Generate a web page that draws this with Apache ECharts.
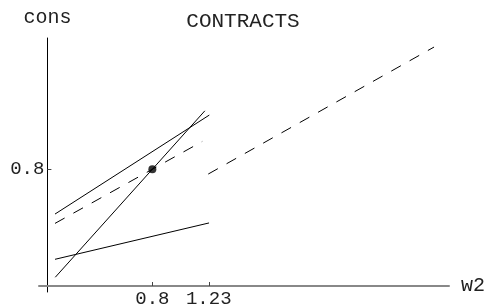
<!DOCTYPE html>
<html>
<head>
<meta charset="utf-8">
<script src="https://cdn.jsdelivr.net/npm/echarts@6/dist/echarts.min.js"></script>
<style>
  html, body { margin: 0; padding: 0; background: #fff; }
  #chart { width: 491px; height: 307px; }
</style>
</head>
<body>
<div id="chart"></div>
<script>
// contract lines, each [w2, cons] endpoints
const steepLine = [[0.06, 0.06], [1.2, 1.2]]
const upperLine = [[0.058, 0.493], [1.234, 1.171]]
const lowerLine = [[0.058, 0.183], [1.232, 0.432]]
const leftDashed = [[0.058, 0.429], [1.18, 0.99]]
const rightDashed = [[1.226, 0.767], [2.947, 1.637]]
const contractPoint = [[0.8, 0.8]]
const xTicks = [0.8, 1.23]
const yTicks = [0.8]

const font = '"Liberation Mono", "Courier New", monospace'
const textColor = '#222'
const chart = echarts.init(document.getElementById('chart'))

const solid = data => ({
  type: 'line', data, showSymbol: false, silent: true,
  lineStyle: { color: '#000', width: 1 },
})
const dashed = data => ({
  type: 'line', data, showSymbol: false, silent: true,
  lineStyle: { color: '#000', width: 1, type: [11, 10] },
})

// grid 0: full plot range, draws the axis lines through the origin
// grid 1: same scale but starting at the origin, carries ticks and labels
chart.setOption({
  animation: false,
  backgroundColor: '#fff',
  grid: [
    { left: 39, right: 42, top: 38, bottom: 15, outerBoundsMode: 'none' },
    { left: 47.4, right: 42, top: 38, bottom: 21, outerBoundsMode: 'none' },
  ],
  graphic: [{
    type: 'text', x: 243, y: 21,
    style: { text: 'CONTRACTS', font: '21px ' + font, fill: textColor, align: 'center', verticalAlign: 'middle' },
  }],
  xAxis: [{
    type: 'value', min: -0.064, max: 3.061, gridIndex: 0,
    name: 'w2', nameLocation: 'end', nameGap: 12,
    nameTextStyle: { fontFamily: font, fontSize: 20, color: textColor },
    axisLine: { onZero: true, lineStyle: { color: '#888', width: 2 } },
    axisTick: { show: false }, axisLabel: { show: false }, splitLine: { show: false },
  }, {
    type: 'value', min: 0, max: 3.061, gridIndex: 1,
    axisLine: { show: false },
    axisTick: { inside: true, length: 4, customValues: xTicks, lineStyle: { color: '#444' } },
    axisLabel: { customValues: xTicks, margin: 3, fontFamily: font, fontSize: 19, color: textColor },
    splitLine: { show: false },
  }],
  yAxis: [{
    type: 'value', min: -0.041, max: 1.699, gridIndex: 0,
    name: 'cons', nameLocation: 'end', nameGap: 10,
    nameTextStyle: { fontFamily: font, fontSize: 20, color: textColor },
    axisLine: { show: true, onZero: true, lineStyle: { color: '#000', width: 1 } },
    axisTick: { show: false }, axisLabel: { show: false }, splitLine: { show: false },
  }, {
    type: 'value', min: 0, max: 1.699, gridIndex: 1,
    axisLine: { show: false },
    axisTick: { show: true, inside: true, length: 4, customValues: yTicks, lineStyle: { color: '#444' } },
    axisLabel: { customValues: yTicks, margin: 3, fontFamily: font, fontSize: 19, color: textColor },
    splitLine: { show: false },
  }],
  series: [
    solid(steepLine),
    solid(upperLine),
    solid(lowerLine),
    dashed(leftDashed),
    dashed(rightDashed),
    {
      type: 'scatter', data: contractPoint, symbolSize: 8, silent: true,
      itemStyle: { color: '#000' },
    },
  ],
})
</script>
</body>
</html>
